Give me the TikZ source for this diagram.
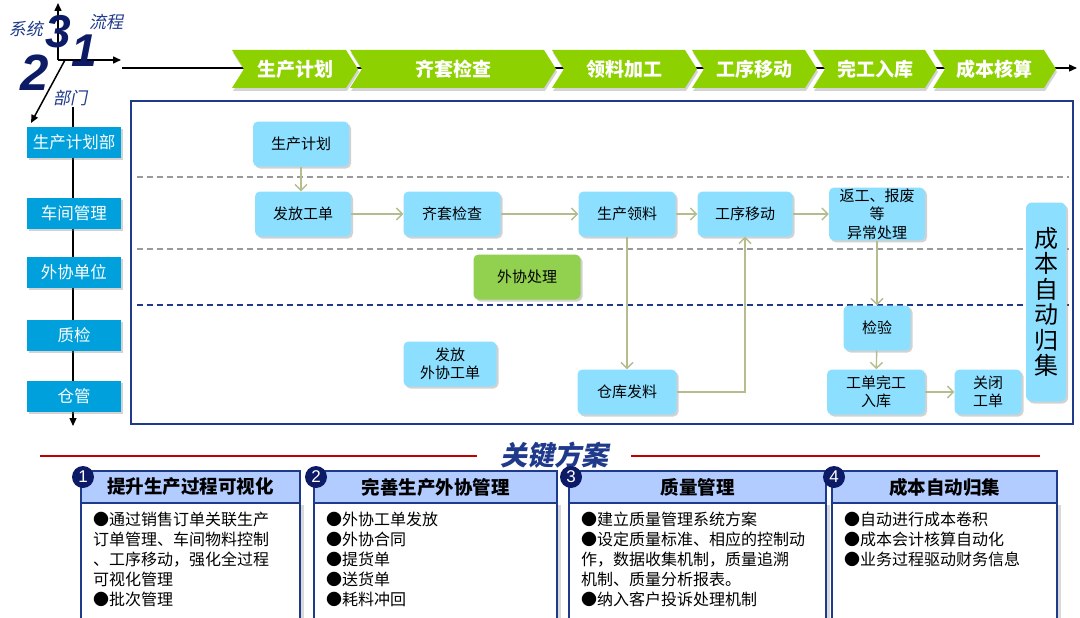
\documentclass[tikz,border=0pt]{standalone}
\usepackage{fontspec}
\setmainfont{Noto Sans CJK SC}
\newfontfamily\slantcjk{Noto Sans CJK SC}[FakeSlant=0.2]
\newfontfamily\digitfont{Liberation Sans}
\usetikzlibrary{arrows.meta,shadows}
\definecolor{navy}{HTML}{1F3A8A}
\definecolor{darknavy}{HTML}{0D1A66}
\definecolor{chevgreen}{HTML}{8ED100}
\definecolor{boxblue}{HTML}{8DDFFF}
\definecolor{deptblue}{HTML}{00A0DC}
\definecolor{outgreen}{HTML}{92D050}
\definecolor{flowgray}{HTML}{B5BC8E}
\definecolor{headblue}{HTML}{B3CCFF}
\definecolor{keyred}{HTML}{C00000}

\begin{document}
\begin{tikzpicture}[x=1pt,y=-1pt,
  stepnode/.style={fill=boxblue, rounded corners=5pt, minimum width=96pt, minimum height=45pt,
    inner sep=1pt, align=center, font=\fontsize{15}{18.5}\selectfont,
    drop shadow={shadow xshift=2pt,shadow yshift=-2pt,opacity=0.35}},
  deptbox/.style={fill=deptblue, minimum width=94pt, minimum height=31pt, inner sep=0pt,
    text=white, font=\fontsize{16.5}{18}\selectfont,
    drop shadow={shadow xshift=2pt,shadow yshift=-2pt,opacity=0.35}},
  chevtext/.style={text=white, font=\fontsize{19}{20}\selectfont\bfseries},
  flow/.style={draw=flowgray, line width=1.4pt, -{Straight Barb[length=6pt,width=12pt]}},
  lanegray/.style={draw=black!40, line width=1.3pt, dash pattern=on 6pt off 4pt},
  axis/.style={line width=1.5pt, -{Triangle[length=8pt,width=7pt]}},
  axislabel/.style={text=navy, font=\fontsize{17}{20}\selectfont\slantcjk},
  axisdigit/.style={text=darknavy, font=\fontsize{46}{46}\selectfont\digitfont\bfseries\itshape},
  headbox/.style={fill=headblue, draw=navy, line width=1.5pt},
  bodybox/.style={fill=white, draw=navy, line width=1.5pt,
    drop shadow={shadow xshift=4pt,shadow yshift=-2pt,opacity=0.3}},
  numdot/.style={circle, fill=darknavy, minimum size=22pt, inner sep=0pt, text=white,
    font=\fontsize{17}{17}\selectfont\digitfont},
  bodytext/.style={anchor=north west, inner sep=0pt, align=left,
    font=\fontsize{16}{20}\selectfont}
]
\useasboundingbox (0,0) rectangle (1080,618);

% axes, top left
\coordinate (o) at (58,60);
\coordinate (yend) at (58,3);
\coordinate (xend) at (121,60);
\coordinate (zo) at (65,60);
\coordinate (zend) at (31,123);
\draw[axis] (o) -- (yend);
\draw[axis] (o) -- (xend);
\draw[axis] (zo) -- (zend);
\node[axisdigit] (d3) at (58,32) {3};
\node[axisdigit] (d1) at (84,51) {1};
\node[axisdigit, font=\fontsize{51}{51}\selectfont\digitfont\bfseries\itshape] (d2) at (35,73) {2};
\node[axislabel] (sys) at (26,29) {系统};
\node[axislabel] (proc) at (106,22) {流程};
\node[axislabel] (dept) at (70,98) {部门};

% process line with chevrons
\coordinate (fs) at (122,68);
\coordinate (fe) at (1077,68);
\draw[line width=1.3pt, -{Triangle[length=8pt,width=7pt]}] (fs) -- (fe);
\foreach \l/\r/\t [count=\i] in {232/358/生产计划, 350/556/齐套检查, 552/697/领料加工,
    692/817/工序移动, 813/937/完工入库, 933/1056/成本核算} {
  \fill[chevgreen, drop shadow={shadow xshift=1pt,shadow yshift=-3pt,opacity=0.35}]
    (\l,50) -- (\r-12,50) -- (\r,69) -- (\r-12,88) -- (\l,88) -- (\l+12,69) -- cycle;
  \node[chevtext] (ch\i) at ({(\l+\r)/2},69) {\t};
}

% departments
\coordinate (dtop) at (73,107);
\coordinate (dbot) at (73,426);
\draw[axis, line width=1.2pt] (dtop) -- (dbot);
\node[deptbox] (plandept) at (74,142) {生产计划部};
\node[deptbox] (shop) at (74,213) {车间管理};
\node[deptbox] (partner) at (74,272) {外协单位};
\node[deptbox] (qc) at (74,335) {质检};
\node[deptbox] (store) at (74,396) {仓管};

% main frame and lanes
\draw[draw=navy, line width=1.6pt, fill=white] (131,101) rectangle (1073,424);
\draw[lanegray] (137,177) -- (1069,177);
\draw[lanegray] (137,249) -- (1069,249);
\draw[lanegray, draw=navy] (137,305) -- (1069,305);

\node[stepnode] (plan) at (301,144) {生产计划};
\node[stepnode] (issue) at (303,214) {发放工单};
\node[stepnode, minimum width=97pt] (kit) at (452,214) {齐套检查};
\node[stepnode, fill=outgreen, minimum width=107pt] (outsrc) at (527,277) {外协处理};
\node[stepnode, minimum width=97pt] (pick) at (627,214) {生产领料};
\node[stepnode, minimum width=95pt] (move) at (745,214) {工序移动};
\node[stepnode] (rework) at (877,214) {返工、报废\\等\\异常处理};
\node[stepnode, minimum width=40pt, minimum height=199pt, rounded corners=6pt,
  font=\fontsize{24}{25.5}\selectfont] (cost) at (1046,302) {成\\本\\自\\动\\归\\集};
\node[stepnode, minimum width=67pt] (insp) at (877,328) {检验};
\node[stepnode, minimum width=98pt] (done) at (876,392) {工单完工\\入库};
\node[stepnode, minimum width=67pt] (close) at (988,392) {关闭\\工单};
\node[stepnode, minimum width=93pt] (outorder) at (450,364) {发放\\外协工单};
\node[stepnode, minimum width=99pt] (stock) at (627,392) {仓库发料};

\draw[flow] (plan.south) -- (plan.south |- issue.north);
\draw[flow] (issue) -- (kit);
\draw[flow] (kit) -- (pick);
\draw[flow] (pick) -- (move);
\draw[flow] (move) -- (rework);
\draw[flow] (pick) -- (stock);
\draw[flow] (stock) -| (move);
\draw[flow] (rework) -- (insp);
\draw[flow] (insp) -- (done);
\draw[flow] (done) -- (close);

% key solutions
\coordinate (rl1) at (40,456);
\coordinate (rl2) at (477,456);
\coordinate (rr1) at (631,456);
\coordinate (rr2) at (1040,456);
\draw[keyred, line width=2.5pt] (rl1) -- (rl2);
\draw[keyred, line width=2.5pt] (rr1) -- (rr2);
\node[text=navy, font=\fontsize{27}{28}\selectfont\slantcjk\bfseries] (key) at (554,455) {关键方案};

\foreach \l/\r/\n/\h in {81/300/1/提升生产过程可视化, 314/557/2/完善生产外协管理,
    569/826/3/质量管理, 832/1057/4/成本自动归集} {
  \draw[bodybox] (\l,503) rectangle (\r,625);
  \draw[headbox] (\l,471) rectangle (\r,503);
  \node[font=\fontsize{18.5}{20}\selectfont\bfseries] (hd\n) at ({(\l+\r)/2},487) {\h};
  \node[numdot] (num\n) at (\l+2,477) {\n};
}
\node[bodytext] (bd1) at (93,512) {●通过销售订单关联生产\\订单管理、车间物料控制\\、工序移动，强化全过程\\可视化管理\\●批次管理};
\node[bodytext] (bd2) at (326,512) {●外协工单发放\\●外协合同\\●提货单\\●送货单\\●耗料冲回};
\node[bodytext] (bd3) at (581,512) {●建立质量管理系统方案\\●设定质量标准、相应的控制动\\作，数据收集机制，质量追溯\\机制、质量分析报表。\\●纳入客户投诉处理机制};
\node[bodytext] (bd4) at (844,512) {●自动进行成本卷积\\●成本会计核算自动化\\●业务过程驱动财务信息};
\end{tikzpicture}
\end{document}
